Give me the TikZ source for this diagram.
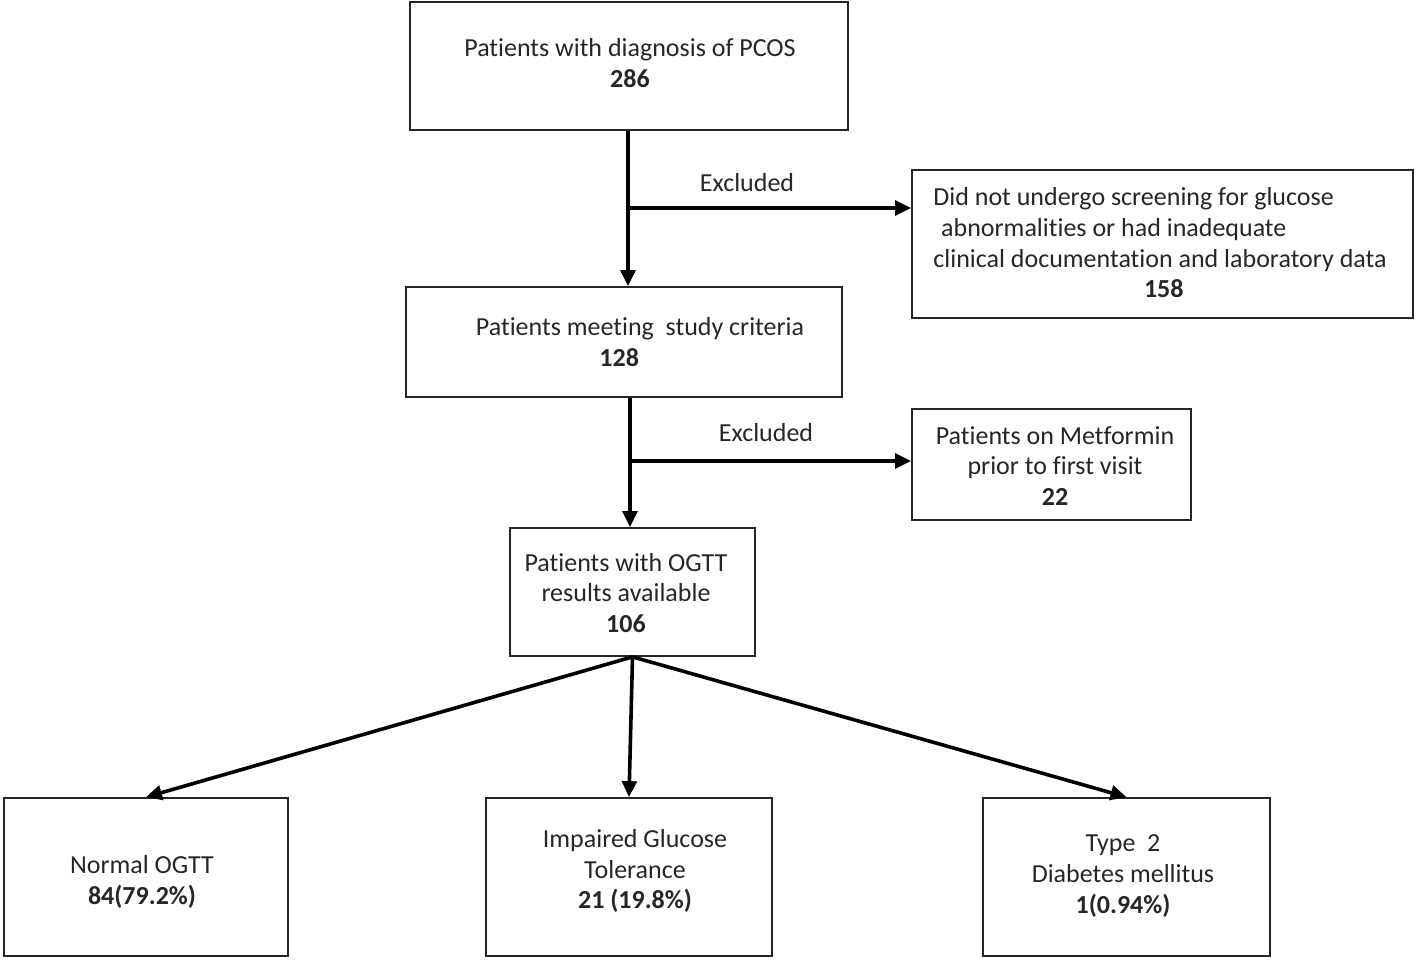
\documentclass[tikz,border=0pt]{standalone}
\usepackage{fontspec}
\setmainfont{Carlito}[Ligatures=NoCommon]
\usetikzlibrary{arrows.meta}
\tikzset{
  flowbox/.style={draw=black!85, line width=1.3pt, rectangle, inner sep=0pt},
  flowtext/.style={inner sep=0.75pt, align=center, text=black!85, font=\fontsize{19.5}{23}\selectfont},
  flowarr/.style={line width=2.7pt, -{Triangle[length=12pt,width=11pt]}},
}
\begin{document}
\begin{tikzpicture}[x=0.75pt,y=0.75pt,yscale=-1,xscale=1]
    \useasboundingbox (0,0) rectangle (1416,960);
    % Boxes
    \node [flowbox, minimum width=438*0.75pt, minimum height=128*0.75pt] (pcos) at (629,66) {};
    \node [flowbox, minimum width=501*0.75pt, minimum height=148*0.75pt] (excla) at (1162.5,244) {};
    \node [flowbox, minimum width=436*0.75pt, minimum height=110*0.75pt] (crit) at (624,342) {};
    \node [flowbox, minimum width=279*0.75pt, minimum height=111*0.75pt] (exclb) at (1051.5,464.5) {};
    \node [flowbox, minimum width=245*0.75pt, minimum height=128*0.75pt] (ogtt) at (632.5,592) {};
    \node [flowbox, minimum width=284*0.75pt, minimum height=158*0.75pt] (normal) at (146,877) {};
    \node [flowbox, minimum width=286*0.75pt, minimum height=158*0.75pt] (igt) at (629,877) {};
    \node [flowbox, minimum width=287*0.75pt, minimum height=158*0.75pt] (dm) at (1126.5,877) {};

    % Straight Lines
    \coordinate (ja) at (628,208);
    \coordinate (jb) at (630,461);
    \draw [flowarr] (ja |- pcos.south) -- (ja |- crit.north);
    \draw [flowarr] (ja) -- (ja -| excla.west);
    \draw [flowarr] (jb |- crit.south) -- (jb |- ogtt.north);
    \draw [flowarr] (jb) -- (jb -| exclb.west);
    \draw [flowarr] (ogtt.south) -- (normal.north);
    \draw [flowarr] (ogtt.south) -- (igt.north);
    \draw [flowarr] (ogtt.south) -- (dm.north);

    % Text Nodes
    \node [flowtext] (pcost) at (630,63) {Patients with diagnosis of PCOS\\\textbf{286}};
    \node [flowtext, align=left] (exclat) at (1160,243) {Did not undergo screening for glucose\\
      \hspace{0.3em}abnormalities or had inadequate\\
      clinical documentation and laboratory data\\
      \hspace{8.1em}\textbf{158}};
    \node [flowtext] (critt) at (640,342) {Patients meeting \ study criteria\\\hspace*{-1.6em}\textbf{128}};
    \node [flowtext] (exclbt) at (1055,466) {Patients on Metformin\\prior to first visit\\\textbf{22}};
    \node [flowtext] (ogttt) at (626,593) {Patients with OGTT\\results available\\\textbf{106}};
    \node [flowtext] (normalt) at (142,882) {Normal OGTT\\\textbf{84(79.2\%)}};
    \node [flowtext] (igtt) at (635,871) {Impaired Glucose\\Tolerance\\\textbf{21 (19.8\%)}};
    \node [flowtext] (dmt) at (1123,876) {Type \ 2\\Diabetes mellitus\\\textbf{1(0.94\%)}};
    \node [flowtext] (laba) at (747,183) {Excluded};
    \node [flowtext] (labb) at (766,433) {Excluded};
\end{tikzpicture}
\end{document}
